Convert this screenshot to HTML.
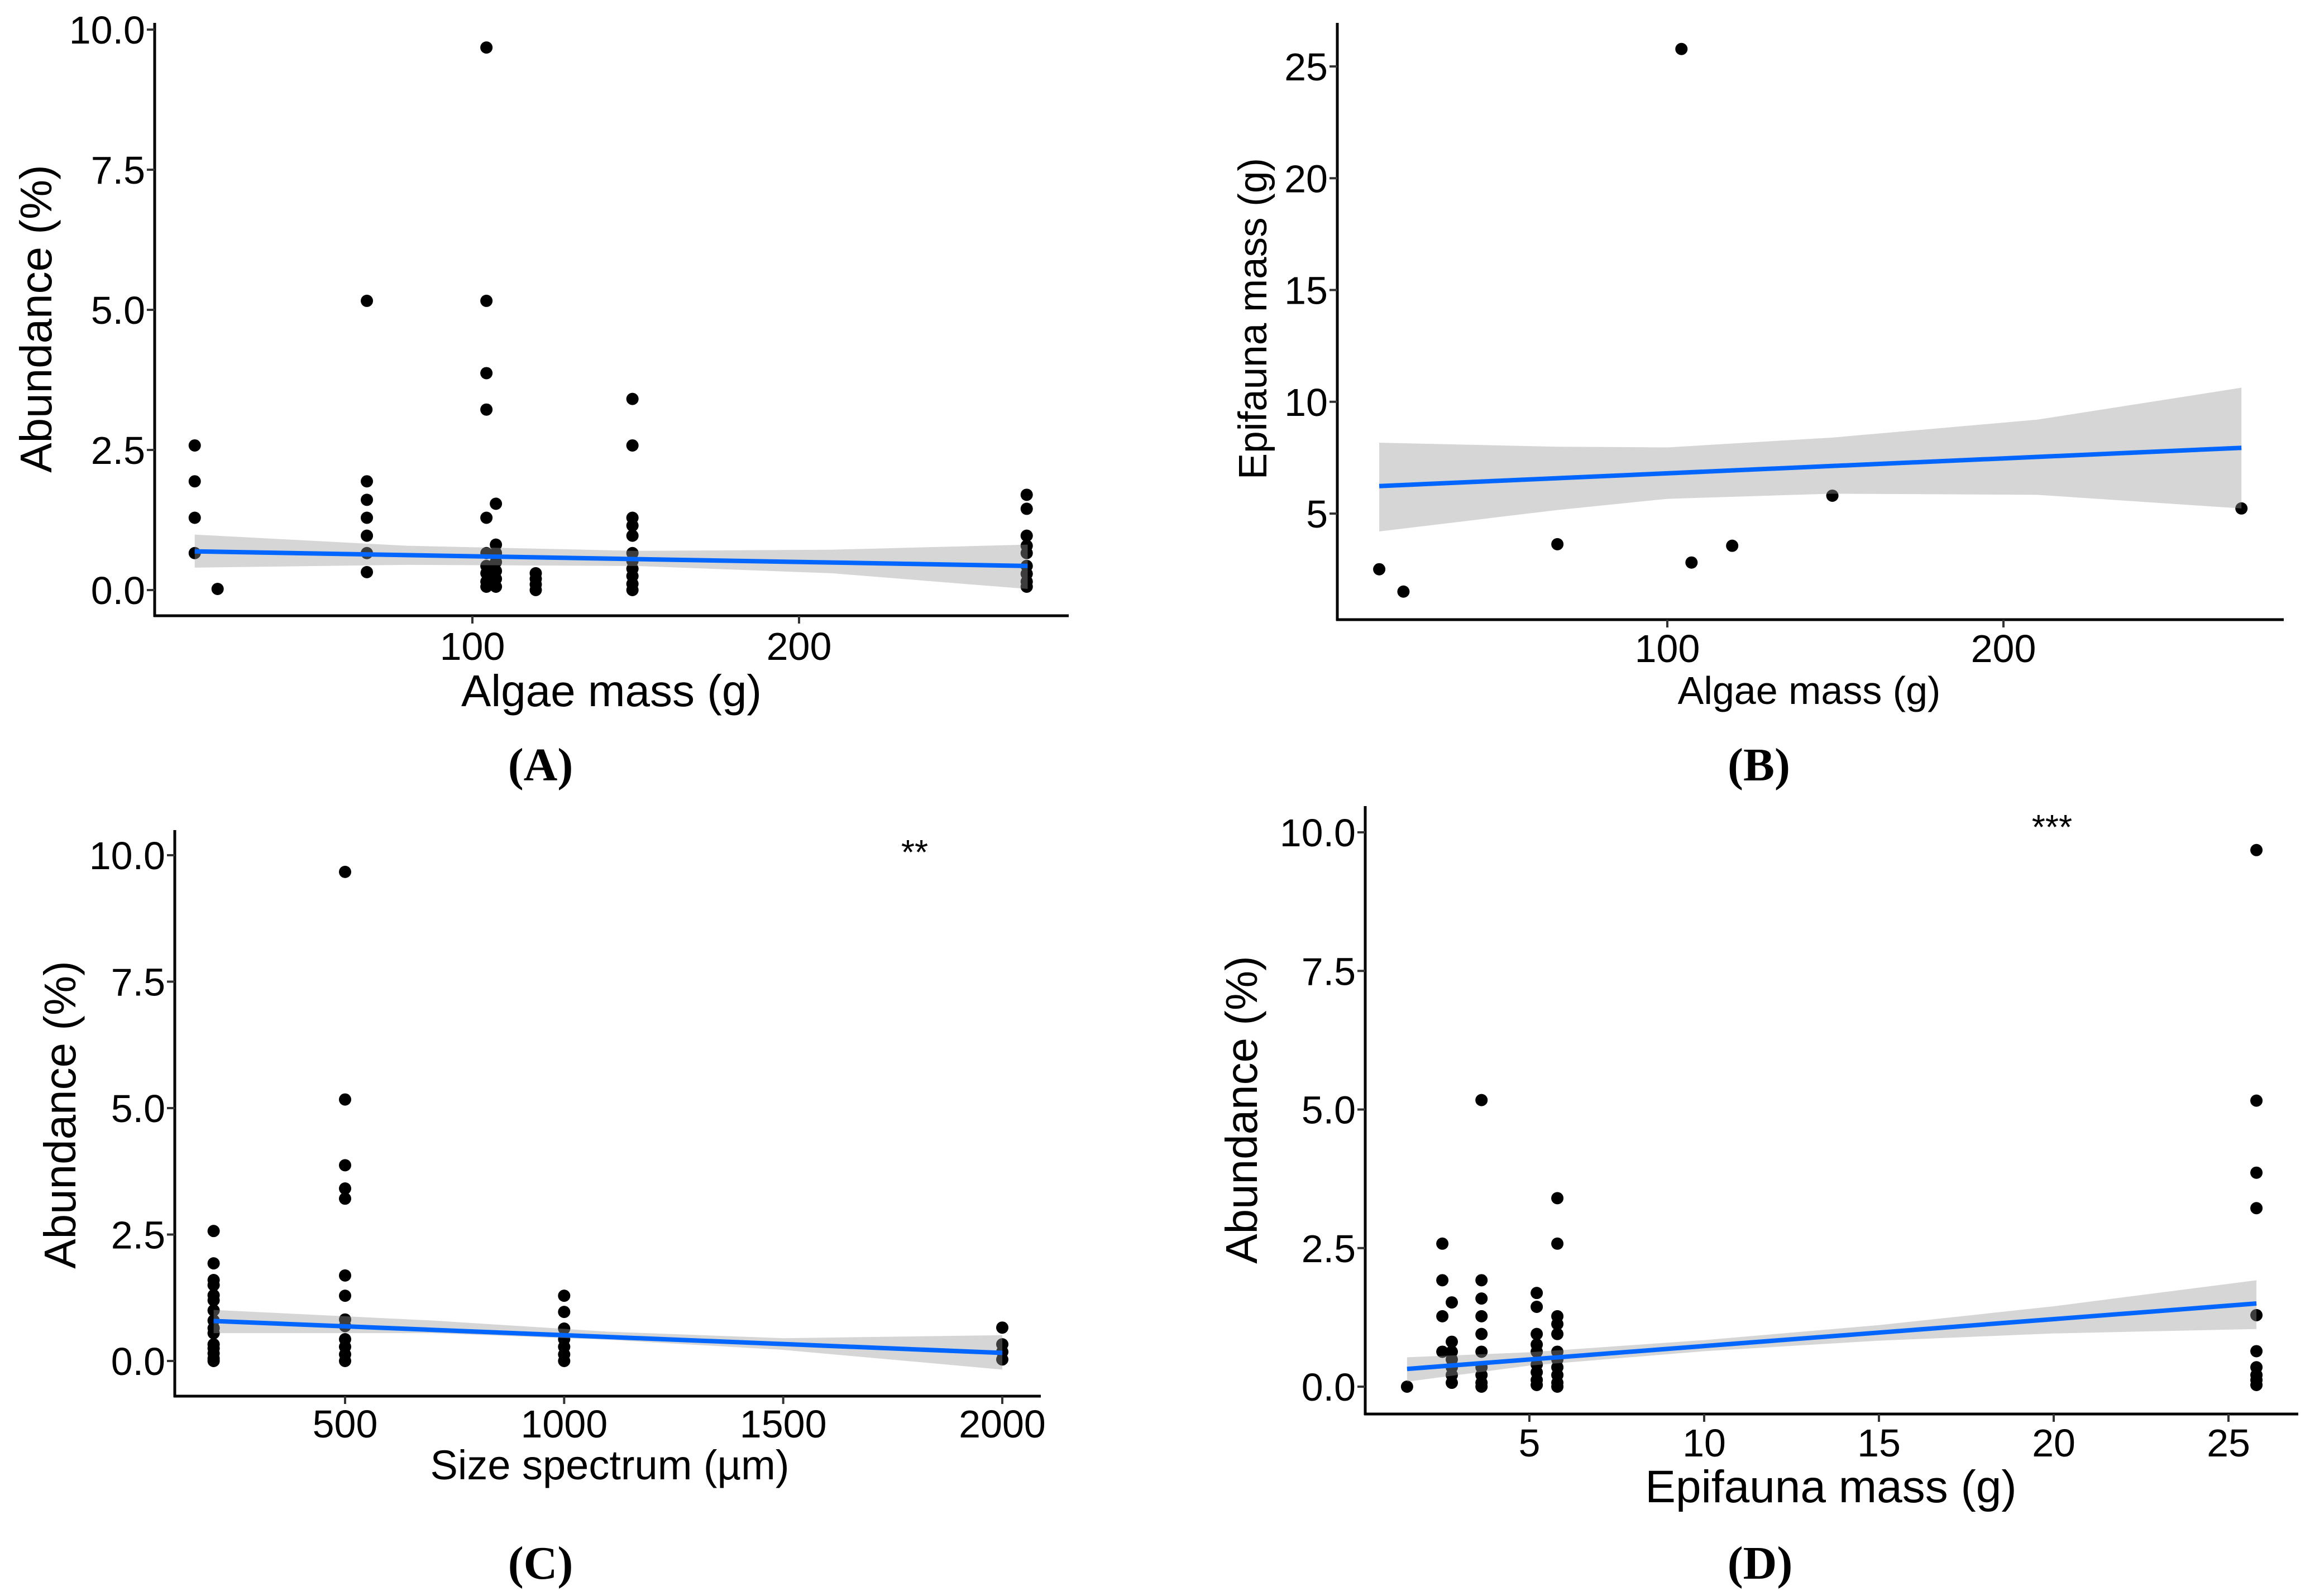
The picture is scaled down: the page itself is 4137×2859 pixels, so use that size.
<!DOCTYPE html>
<html><head><meta charset="utf-8"><style>
html,body{margin:0;padding:0;background:#fff;}
svg{display:block;}
text{font-family:"Liberation Sans",sans-serif;fill:#000;}
.lab{font-family:"Liberation Serif",serif;font-weight:bold;}
</style></head><body>
<svg id="fig" width="4137" height="2859" viewBox="0 0 4137 2859" xmlns="http://www.w3.org/2000/svg"></svg>
<script>
// ---------- Panel A data: Abundance (%) vs Algae mass (g)
const aX = [15,15,15,15,22,67.7,67.7,67.7,67.7,67.7,67.7,67.7,104.3,104.3,104.3,104.3,104.3,104.3,104.3,104.3,104.3,104.3,107.2,107.2,107.2,107.2,107.2,107.2,107.2,119.4,119.4,119.4,119.4,149,149,149,149,149,149,149,149,149,149,149,269.7,269.7,269.7,269.7,269.7,269.7,269.7,269.7,269.7];
const aY = [2.58,1.94,1.29,0.66,0.02,5.16,1.94,1.61,1.29,0.97,0.66,0.32,9.68,5.16,3.87,3.22,1.29,0.66,0.43,0.3,0.15,0.06,1.54,0.81,0.66,0.5,0.34,0.2,0.06,0.3,0.2,0.1,0,3.41,2.58,1.29,1.15,0.97,0.66,0.52,0.38,0.25,0.11,0,1.7,1.45,0.97,0.79,0.66,0.43,0.29,0.15,0.06];
const aFitX = [15,270];
const aFitY = [0.69,0.43];
const aBandX = [15,80,150,210,270];
const aBandLo = [0.40,0.45,0.43,0.30,0.02];
const aBandHi = [0.99,0.79,0.70,0.72,0.81];
const aXTicks = [100,200];
const aYTicks = [0,2.5,5,7.5,10];
const aYTickLabels = ["0.0","2.5","5.0","7.5","10.0"];

// ---------- Panel B data: Epifauna mass (g) vs Algae mass (g)
const bX = [14.3,21.5,67.3,104.2,107.2,119.3,149.1,270.8];
const bY = [2.51,1.51,3.63,25.78,2.81,3.56,5.80,5.23];
const bFitX = [14.3,270.8];
const bFitY = [6.23,7.94];
const bBandX = [14.3,67.3,100,149.1,210,270.8];
const bBandLo = [4.2,5.16,5.66,5.89,5.84,5.23];
const bBandHi = [8.17,7.99,7.96,8.4,9.2,10.63];
const bXTicks = [100,200];
const bYTicks = [5,10,15,20,25];
const bYTickLabels = ["5","10","15","20","25"];

// ---------- Panel C data: Abundance (%) vs Size spectrum (µm)
const cX = [200,200,200,200,200,200,200,200,200,200,200,200,200,200,200,500,500,500,500,500,500,500,500,500,500,500,500,500,1000,1000,1000,1000,1000,1000,1000,2000,2000,2000,2000];
const cY = [2.57,1.93,1.6,1.5,1.3,1.2,1.0,0.8,0.65,0.55,0.33,0.25,0.15,0.05,0,9.67,5.17,3.87,3.41,3.21,1.69,1.29,0.82,0.69,0.43,0.28,0.13,0,1.29,0.97,0.64,0.43,0.28,0.13,0,0.66,0.33,0.18,0.03];
const cFitX = [200,2000];
const cFitY = [0.79,0.16];
const cBandX = [200,700,1100,1500,2000];
const cBandLo = [0.55,0.55,0.42,0.22,-0.17];
const cBandHi = [1.01,0.80,0.58,0.45,0.51];
const cXTicks = [500,1000,1500,2000];
const cYTicks = [0,2.5,5,7.5,10];
const cYTickLabels = ["0.0","2.5","5.0","7.5","10.0"];

// ---------- Panel D data: Abundance (%) vs Epifauna mass (g)
const dX = [1.5,2.51,2.51,2.51,2.51,2.78,2.78,2.78,2.78,2.78,2.78,2.78,3.63,3.63,3.63,3.63,3.63,3.63,3.63,3.63,3.63,3.63,5.21,5.21,5.21,5.21,5.21,5.21,5.21,5.21,5.21,5.8,5.8,5.8,5.8,5.8,5.8,5.8,5.8,5.8,5.8,5.8,25.8,25.8,25.8,25.8,25.8,25.8,25.8,25.8,25.8,25.8];
const dY = [0,2.58,1.92,1.27,0.63,1.52,0.81,0.63,0.49,0.35,0.21,0.07,5.17,1.92,1.59,1.27,0.95,0.63,0.35,0.21,0.07,0,1.69,1.44,0.95,0.76,0.63,0.4,0.26,0.12,0.03,3.4,2.58,1.27,1.13,0.95,0.63,0.49,0.35,0.21,0.07,0,9.68,5.16,3.86,3.22,1.29,0.64,0.35,0.21,0.12,0.03];
const dFitX = [1.5,25.8];
const dFitY = [0.32,1.5];
const dBandX = [1.5,5,10,15,20,25.8];
const dBandLo = [0.09,0.38,0.64,0.83,0.96,1.04];
const dBandHi = [0.53,0.62,0.84,1.11,1.45,1.92];
const dXTicks = [5,10,15,20,25];
const dYTicks = [0,2.5,5,7.5,10];
const dYTickLabels = ["0.0","2.5","5.0","7.5","10.0"];

const NS = "http://www.w3.org/2000/svg";
const svg = document.getElementById('fig');
function mk(tag, attrs, parent){
  const e = document.createElementNS(NS, tag);
  for (const k in attrs) e.setAttribute(k, attrs[k]);
  (parent||svg).appendChild(e);
  return e;
}

function panel(p){
  const g = mk('g', {});
  
  
  const sx = v => p.x0px + (v - p.x0) * (p.x1px - p.x0px) / (p.x1 - p.x0);
  const sy = v => p.y0px + (v - p.y0) * (p.y1px - p.y0px) / (p.y1 - p.y0);
  for (let i = 0; i < p.xs.length; i++){
    const c = mk('circle', {cx: sx(p.xs[i]), cy: sy(p.ys[i]), r: 11, fill: '#000'}, g);
    
    
  }
  let d = '';
  for (let i = 0; i < p.bx.length; i++) d += (i ? 'L' : 'M') + sx(p.bx[i]) + ' ' + sy(p.bhi[i]) + ' ';
  for (let i = p.bx.length - 1; i >= 0; i--) d += 'L' + sx(p.bx[i]) + ' ' + sy(p.blo[i]) + ' ';
  const band = mk('path', {d: d + 'Z', fill: '#999999', 'fill-opacity': 0.4}, g);
  
  
  const fl = mk('line', {x1: sx(p.fx[0]), y1: sy(p.fy[0]), x2: sx(p.fx[1]), y2: sy(p.fy[1]), stroke: '#0066FF', 'stroke-width': 8}, g);
  
  
  const ya = mk('line', {x1: p.ax, y1: p.top, x2: p.ax, y2: p.bottom + 2, stroke: '#000', 'stroke-width': 5}, g);
  
  
  const xa = mk('line', {x1: p.ax - 2, y1: p.bottom, x2: p.right, y2: p.bottom, stroke: '#000', 'stroke-width': 5}, g);
  
  
  for (let i = 0; i < p.yt.length; i++){
    const y = sy(p.yt[i]);
    mk('line', {x1: p.ax - 14, y1: y, x2: p.ax, y2: y, stroke: '#333', 'stroke-width': 4}, g);
    const t = mk('text', {x: p.ax - 17, y: y + 25, 'font-size': 70, 'text-anchor': 'end'}, g);
    t.textContent = p.ytl[i];
    
    
  }
  for (let i = 0; i < p.xt.length; i++){
    const x = sx(p.xt[i]);
    mk('line', {x1: x, y1: p.bottom, x2: x, y2: p.bottom + 14, stroke: '#333', 'stroke-width': 4}, g);
    const t = mk('text', {x: x, y: p.xtY, 'font-size': 70, 'text-anchor': 'middle'}, g);
    t.textContent = String(p.xt[i]);
    
    
  }
  const xt = mk('text', {x: p.xtitleX, y: p.xtitleY, 'font-size': p.xtitleSize, 'text-anchor': 'middle'}, g);
  xt.textContent = p.xtitle;
  
  
  const yt = mk('text', {x: 0, y: 0, 'font-size': p.ytitleSize, 'text-anchor': 'middle', transform: 'translate(' + p.ytitleX + ',' + p.ytitleY + ') rotate(-90)'}, g);
  yt.textContent = p.ytitle;
  
  
  if (p.sig){
    const s = mk('text', {x: p.sigX, y: p.sigY, 'font-size': 62, 'text-anchor': 'middle'}, g);
    s.textContent = p.sig;
    
    
  }
  const lb = mk('text', {x: p.labX, y: p.labY, 'font-size': 84, 'text-anchor': 'middle', 'class': 'lab'}, g);
  lb.textContent = p.lab;
  
  
}

panel({name:'panel-a', xs:aX, ys:aY, fx:aFitX, fy:aFitY, bx:aBandX, blo:aBandLo, bhi:aBandHi,
  xt:aXTicks, yt:aYTicks, ytl:aYTickLabels,
  x0:100, x1:200, x0px:846, x1px:1431, y0:0, y1:10, y0px:1057, y1px:53,
  ax:277, top:41, bottom:1103, right:1914, xtY:1182,
  xtitle:'Algae mass (g)', xtitleX:1095, xtitleY:1265, xtitleSize:80,
  ytitle:'Abundance (%)', ytitleX:92, ytitleY:571, ytitleSize:80,
  lab:'(A)', labX:968, labY:1398});

panel({name:'panel-b', xs:bX, ys:bY, fx:bFitX, fy:bFitY, bx:bBandX, blo:bBandLo, bhi:bBandHi,
  xt:bXTicks, yt:bYTicks, ytl:bYTickLabels,
  x0:100, x1:200, x0px:2986, x1px:3588, y0:5, y1:25, y0px:920, y1px:119,
  ax:2395, top:41, bottom:1110, right:4090, xtY:1186,
  xtitle:'Algae mass (g)', xtitleX:3240, xtitleY:1261, xtitleSize:70,
  ytitle:'Epifauna mass (g)', ytitleX:2268, ytitleY:571, ytitleSize:71,
  lab:'(B)', labX:3150, labY:1398});

panel({name:'panel-c', xs:cX, ys:cY, fx:cFitX, fy:cFitY, bx:cBandX, blo:cBandLo, bhi:cBandHi,
  xt:cXTicks, yt:cYTicks, ytl:cYTickLabels,
  x0:500, x1:2000, x0px:618, x1px:1795, y0:0, y1:10, y0px:2438, y1px:1532,
  ax:313, top:1487, bottom:2501, right:1864, xtY:2575,
  xtitle:'Size spectrum (\u00b5m)', xtitleX:1092, xtitleY:2650, xtitleSize:74,
  ytitle:'Abundance (%)', ytitleX:135, ytitleY:1997, ytitleSize:80,
  sig:'**', sigX:1638, sigY:1548,
  lab:'(C)', labX:968, labY:2828});

panel({name:'panel-d', xs:dX, ys:dY, fx:dFitX, fy:dFitY, bx:dBandX, blo:dBandLo, bhi:dBandHi,
  xt:dXTicks, yt:dYTicks, ytl:dYTickLabels,
  x0:5, x1:25, x0px:2739, x1px:3991, y0:0, y1:10, y0px:2484, y1px:1491,
  ax:2445, top:1444, bottom:2533, right:4116, xtY:2609,
  xtitle:'Epifauna mass (g)', xtitleX:3279, xtitleY:2691, xtitleSize:82,
  ytitle:'Abundance (%)', ytitleX:2251, ytitleY:1988, ytitleSize:80,
  sig:'***', sigX:3675, sigY:1503,
  lab:'(D)', labX:3152, labY:2828});
</script>
</body></html>
